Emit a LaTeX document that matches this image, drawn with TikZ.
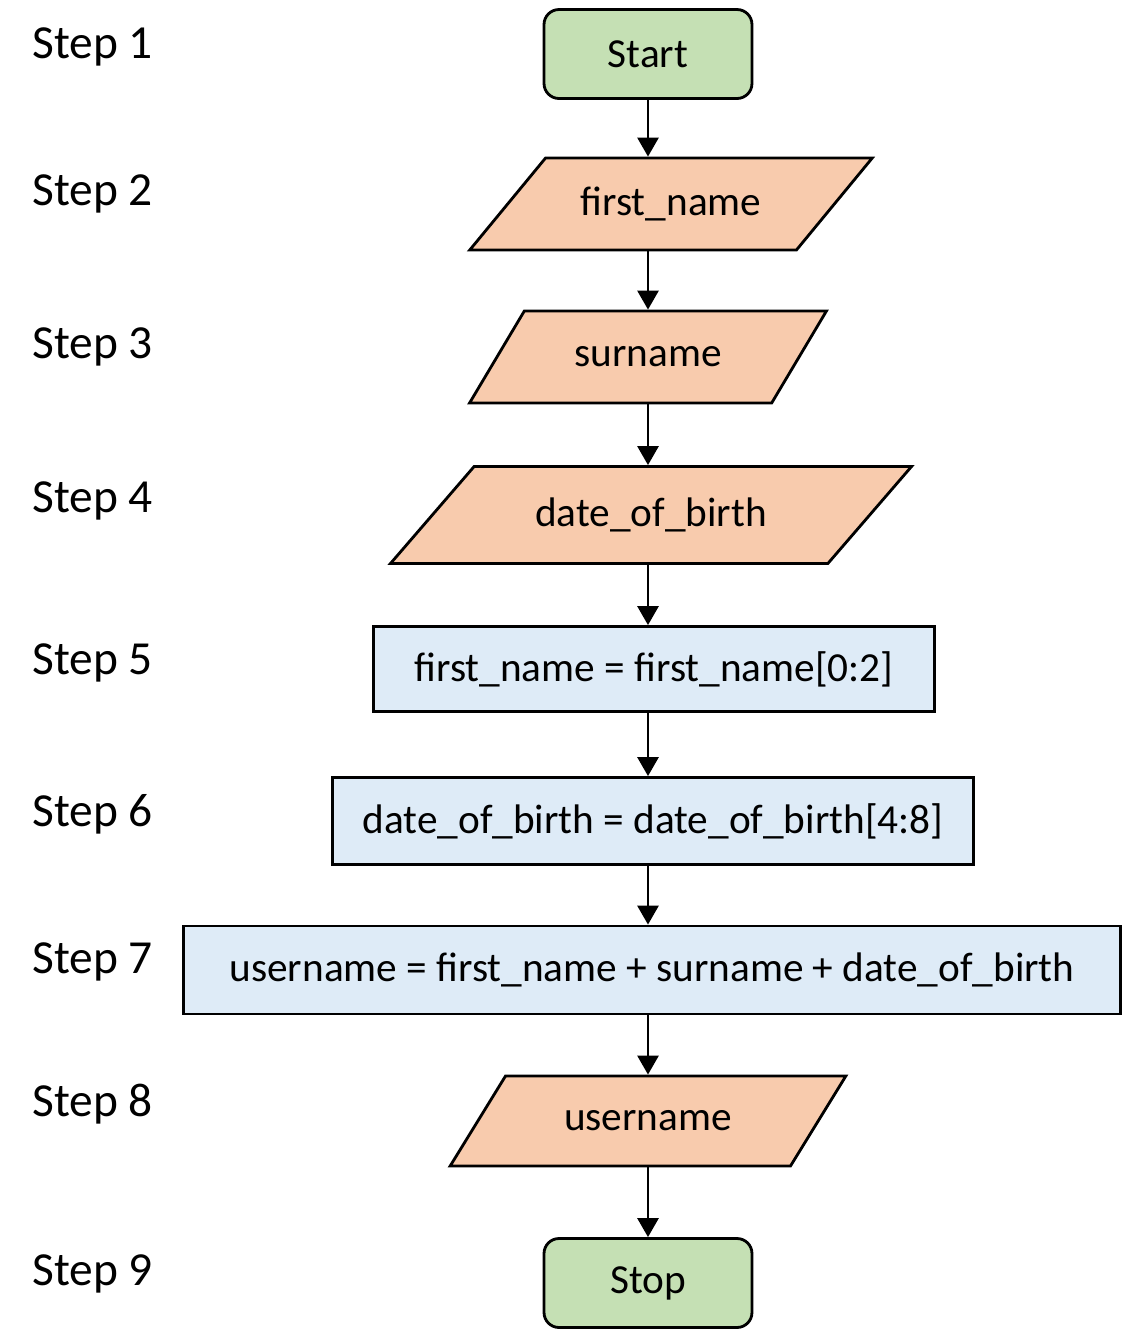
\documentclass[tikz,border=0pt]{standalone}
\usepackage{fontspec}
\setmainfont{Carlito}
\usepackage{xcolor}
\usetikzlibrary{arrows.meta,positioning,shapes.geometric}
\definecolor{termgreen}{HTML}{C5E0B4}
\definecolor{iopeach}{HTML}{F8CBAD}
\definecolor{procblue}{HTML}{DEEBF7}

\begin{document}
\begin{tikzpicture}[
  x=0.02cm, y=-0.02cm,
  term/.style={draw, line width=1.6pt, rounded corners=0.3cm, fill=termgreen,
    minimum width=4.16cm, minimum height=1.78cm, font=\fontsize{23.5}{26}\selectfont},
  io/.style={draw, line width=1.6pt, fill=iopeach, trapezium, trapezium stretches=true,
    trapezium left angle=32, trapezium right angle=148, inner sep=0pt,
    minimum height=1.84cm, font=\fontsize{23.5}{26}\selectfont},
  proc/.style={draw, line width=1.6pt, fill=procblue,
    minimum height=1.74cm, font=\fontsize{23.5}{26}\selectfont},
  steplbl/.style={anchor=west, inner sep=0pt, font=\fontsize{27}{30}\selectfont},
  arr/.style={-{Triangle[length=0.38cm, width=0.42cm]}, line width=1.6pt}
]
  \useasboundingbox (0,0) rectangle (1124,1336);

  % step numbers (left column)
  \foreach \i/\yy in {1/47, 2/194, 3/347, 4/501, 5/663, 6/814, 7/962, 8/1104, 9/1274}
    \node[steplbl] (s\i) at (32,\yy) {Step \i};

  % flow boxes
  \node[term] (start) at (648,54) {Start};
  \node[io, minimum width=8.06cm] (fname) at (671,204) {first\_name};
  \node[io, minimum width=7.14cm] (sname) at (648,357) {surname};
  \node[io, minimum width=10.44cm, minimum height=1.94cm] (dob) at (651,515) {date\_of\_birth};
  \node[proc, minimum width=11.22cm, minimum height=1.7cm] (slicefn) at (654,669)
    {first\_name = first\_name[0:2]};
  \node[proc, minimum width=12.82cm] (slicedob) at (653,821)
    {date\_of\_birth = date\_of\_birth[4:8]};
  \node[proc, minimum width=18.74cm, minimum height=1.76cm] (join) at (652,970)
    {username = first\_name + surname + date\_of\_birth};
  \node[io, minimum width=7.92cm, minimum height=1.8cm] (uname) at (648,1121) {username};
  \node[term] (stop) at (648,1283) {Stop};

  % connectors, all on the centre line of Start
  \draw[arr] (start.south) -- (start.south |- fname.north);
  \draw[arr] (start.south |- fname.south) -- (start.south |- sname.north);
  \draw[arr] (start.south |- sname.south) -- (start.south |- dob.north);
  \draw[arr] (start.south |- dob.south) -- (start.south |- slicefn.north);
  \draw[arr] (start.south |- slicefn.south) -- (start.south |- slicedob.north);
  \draw[arr] (start.south |- slicedob.south) -- (start.south |- join.north);
  \draw[arr] (start.south |- join.south) -- (start.south |- uname.north);
  \draw[arr] (start.south |- uname.south) -- (stop.north);
\end{tikzpicture}
\end{document}
